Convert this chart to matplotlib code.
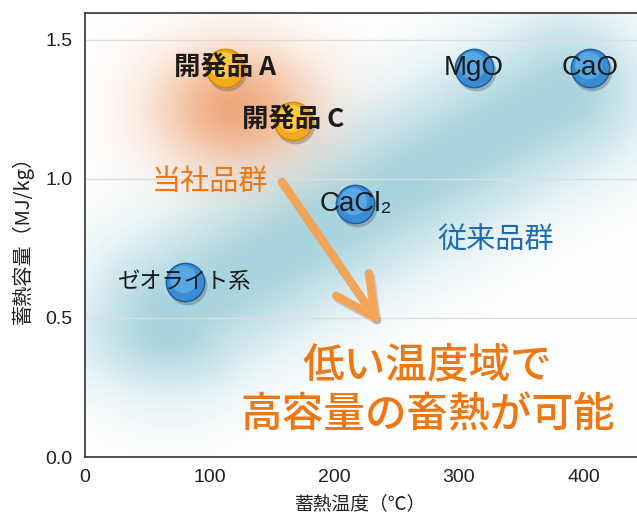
import numpy as np
import matplotlib
matplotlib.use('Agg')
import matplotlib.pyplot as plt
from matplotlib.transforms import offset_copy
from matplotlib.patches import ArrowStyle

plt.rcParams['font.family'] = ['Noto Sans CJK JP', 'DejaVu Sans']

# materials: storage temperature (C) and heat storage capacity (MJ/kg)
names = ['開発品 A', '開発品 C', 'MgO', 'CaO', 'CaCl₂', 'ゼオライト系']
temps = [112, 167, 312, 405, 217, 80]
caps = [1.40, 1.21, 1.40, 1.40, 0.91, 0.63]
groups = ['dev', 'dev', 'conv', 'conv', 'conv', 'conv']

x_ticks = [0, 100, 200, 300, 400]
y_ticks = [0.0, 0.5, 1.0, 1.5]
y_tick_labels = ['0.0', '0.5', '1.0', '1.5']

# arrow from "当社品群" towards the message
arrow_start = [158, 0.99]
arrow_end = [237, 0.475]

ORANGE = '#ee7711'
BLUE_TXT = '#1a6db4'

fig = plt.figure(figsize=(6.37, 5.18), dpi=100)
ax = fig.add_axes([85 / 637, 61 / 518, 552 / 637, 444 / 518])
ax.set_xlim(0, 443)
ax.set_ylim(0, 1.597)

# --- soft background glow (decoration) ---
W, H = 552, 444
px, py = np.meshgrid(np.arange(W) + 0.5, np.arange(H) + 0.5)


def seg_dist(x0, y0, x1, y1):
    dx, dy = x1 - x0, y1 - y0
    t = ((px - x0) * dx + (py - y0) * dy) / (dx * dx + dy * dy)
    t = np.clip(t, 0, 1)
    return np.hypot(px - (x0 + t * dx), py - (y0 + t * dy))


# coordinates here are pixels inside the axes (origin top-left)
d_blue = seg_dist(85, 300, 480, 80)
blue_a = np.exp(-(d_blue / 80.0) ** 2)
blob = np.exp(-(((px - 85) / 90.0) ** 2 + ((py - 315) / 65.0) ** 2))
blue_a = np.clip(np.maximum(blue_a, blob) * 1.0, 0, 1)
orange_a = np.exp(-(((px - 150) / 80.0) ** 2 + ((py - 95) / 62.0) ** 2)) * 0.95

blue_c = np.array([168, 211, 222]) / 255.0
orange_c = np.array([238, 165, 118]) / 255.0
img = np.ones((H, W, 3))
img = img * (1 - blue_a[..., None]) + blue_c * blue_a[..., None]
img = img * (1 - orange_a[..., None]) + orange_c * orange_a[..., None]
ax.imshow(img, extent=[0, 1, 0, 1], transform=ax.transAxes, aspect='auto',
          zorder=0, interpolation='bilinear')

# grid lines
for yv in y_ticks[1:]:
    ax.axhline(yv, color='#dddddd', lw=1.0, zorder=1)

# --- bubbles ---
shadow_tr = offset_copy(ax.transData, fig=fig, x=2, y=-3, units='dots')
hi_tr = offset_copy(ax.transData, fig=fig, x=-2, y=3, units='dots')
for x, y, g in zip(temps, caps, groups):
    if g == 'dev':
        rim, body, light = '#d88a00', '#f4a81c', '#ffd24a'
    else:
        rim, body, light = '#1f5f9e', '#3b8dd3', '#5fb0ea'
    ax.scatter([x], [y], s=820, color='#555555', alpha=0.35, lw=0,
               transform=shadow_tr, zorder=3)
    ax.scatter([x], [y], s=820, color=rim, lw=0, zorder=4)
    ax.scatter([x], [y], s=700, color=body, lw=0, zorder=4)
    ax.scatter([x], [y], s=380, color=light, alpha=0.8, lw=0,
               transform=hi_tr, zorder=4)

# --- labels ---
for name, x, y, g in zip(names, temps, caps, groups):
    if g == 'dev':
        ax.text(x, y, name, ha='center', va='center', fontsize=19,
                fontweight='bold', color='#1a1a1a', zorder=6)
    elif name == 'ゼオライト系':
        ax.text(x, y, name, ha='center', va='center', fontsize=16,
                color='#1a1a1a', zorder=6)
    else:
        ax.text(x, y, name, ha='center', va='center', fontsize=20,
                family=['Liberation Sans', 'DejaVu Sans'], color='#1a1a1a',
                zorder=6)

ax.text(0.2255, 0.619, '当社品群', transform=ax.transAxes, ha='center',
        va='center', fontsize=21, color=ORANGE, zorder=6)
ax.text(0.743, 0.489, '従来品群', transform=ax.transAxes, ha='center',
        va='center', fontsize=21, color=BLUE_TXT, zorder=6)
ax.text(0.62, 0.15, '低い温度域で\n高容量の畜熱が可能', transform=ax.transAxes,
        ha='center', va='center', fontsize=30, fontweight='medium',
        color=ORANGE, linespacing=1.2, zorder=6)

# arrow with faint shadow
style = ArrowStyle('->', head_length=1.3, head_width=0.65)
for dx, dy, col, al in [(2, -3, '#777777', 0.3), (0, 0, '#f2a457', 1.0)]:
    ax.annotate('', xy=arrow_end, xytext=arrow_start,
                xycoords=offset_copy(ax.transData, fig=fig, x=dx, y=dy, units='dots'),
                textcoords=offset_copy(ax.transData, fig=fig, x=dx, y=dy, units='dots'),
                arrowprops=dict(arrowstyle=style, color=col, alpha=al, lw=6,
                                mutation_scale=22, shrinkA=0, shrinkB=0,
                                capstyle='round', joinstyle='round'),
                zorder=5)

# --- axes styling ---
ax.set_xticks(x_ticks)
ax.set_xticklabels([str(v) for v in x_ticks])
ax.set_yticks(y_ticks)
ax.set_yticklabels(y_tick_labels)
ax.tick_params(length=0, labelsize=14, labelcolor='#231f20', pad=9)
for lbl in ax.get_xticklabels() + ax.get_yticklabels():
    lbl.set_family(['Liberation Sans', 'DejaVu Sans'])
for side in ['left', 'bottom', 'top']:
    ax.spines[side].set_color('#333333')
    ax.spines[side].set_linewidth(1.2)
ax.spines['right'].set_visible(False)

ax.set_xlabel('蓄熱温度（℃）', fontsize=13.5, color='#231f20', labelpad=5)
ax.set_ylabel('蓄熱容量（MJ/kg）', fontsize=14.5, color='#231f20', labelpad=8)

fig.savefig('out.png', dpi=100)
